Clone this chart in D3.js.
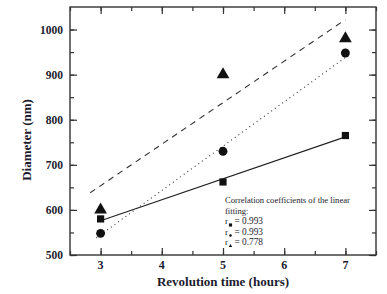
<!DOCTYPE html>
<html>
<head>
<meta charset="utf-8">
<script src="https://cdn.jsdelivr.net/npm/d3@7"></script>
<style>
  body { margin: 0; background: #fff; }
  svg text { font-family: "Liberation Serif", "Times New Roman", serif; fill: #1c1c2e; }
</style>
</head>
<body>
<div id="chart"></div>
<script>
// values
var hours = [3, 5, 7];
var squareVals = [580, 662, 765];
var circleVals = [548, 730, 948];
var triangleVals = [600, 900, 980];

// linear fit lines, end points
var solidFit = [[3, 576], [7, 762]];
var dottedFit = [[2.93, 538], [7, 938]];
var dashedFit = [[2.83, 638], [7, 1022]];

var xTicks = [3, 4, 5, 6, 7];
var yTicks = [500, 600, 700, 800, 900, 1000];
var noteLines = ["Correlation coefficients of the linear", "fitting:"];
var rValues = ["0.993", "0.993", "0.778"];

var width = 387, height = 294;
var margin = {left: 70, top: 7, right: 11, bottom: 39};
var pw = width - margin.left - margin.right;
var ph = height - margin.top - margin.bottom;

var svg = d3.select("#chart").append("svg")
    .attr("width", width)
    .attr("height", height);

var xScale = d3.scaleLinear().domain([2.5, 7.5]).range([0, pw]);
var yScale = d3.scaleLinear().domain([500, 1050]).range([ph, 0]);

var g = svg.append("g")
    .attr("transform", "translate(" + margin.left + "," + margin.top + ")");

// ticks pointing inward on all four sides
var minorX = d3.range(2.5, 7.51, 0.5);
var minorY = d3.range(500, 1050, 50);

function tickAxes(axisFn, scale, vals, len, tr) {
    g.append("g")
        .attr("transform", tr)
        .call(axisFn(scale).tickValues(vals).tickSize(len).tickFormat(""))
        .call(function (s) { s.select(".domain").remove(); })
        .selectAll("line").attr("stroke", "#333").attr("stroke-width", 1.2);
}
tickAxes(d3.axisTop, xScale, minorX, 4, "translate(0," + ph + ")");
tickAxes(d3.axisTop, xScale, xTicks, 7, "translate(0," + ph + ")");
tickAxes(d3.axisBottom, xScale, minorX, 4, "translate(0,0)");
tickAxes(d3.axisBottom, xScale, xTicks, 7, "translate(0,0)");
tickAxes(d3.axisRight, yScale, minorY, 4, "translate(0,0)");
tickAxes(d3.axisRight, yScale, yTicks, 7, "translate(0,0)");
tickAxes(d3.axisLeft, yScale, minorY, 4, "translate(" + pw + ",0)");
tickAxes(d3.axisLeft, yScale, yTicks, 7, "translate(" + pw + ",0)");

// tick labels
g.selectAll(".xlab").data(xTicks).enter().append("text")
    .attr("x", function (d) { return xScale(d); })
    .attr("y", ph + 14)
    .attr("text-anchor", "middle")
    .attr("font-size", 12)
    .attr("font-weight", "bold")
    .text(function (d) { return d; });

g.selectAll(".ylab").data(yTicks).enter().append("text")
    .attr("x", -7)
    .attr("y", function (d) { return yScale(d) + 4; })
    .attr("text-anchor", "end")
    .attr("font-size", 11.5)
    .attr("font-weight", "bold")
    .text(function (d) { return d; });

// frame
g.append("rect")
    .attr("width", pw).attr("height", ph)
    .attr("fill", "none").attr("stroke", "#333").attr("stroke-width", 1.4);

// fit lines
var line = d3.line()
    .x(function (d) { return xScale(d[0]); })
    .y(function (d) { return yScale(d[1]); });

g.append("path").attr("d", line(solidFit))
    .attr("fill", "none").attr("stroke", "#222").attr("stroke-width", 1.1);
g.append("path").attr("d", line(dottedFit))
    .attr("fill", "none").attr("stroke", "#333").attr("stroke-width", 1.1)
    .attr("stroke-dasharray", "1,3.5");
g.append("path").attr("d", line(dashedFit))
    .attr("fill", "none").attr("stroke", "#333").attr("stroke-width", 1.1)
    .attr("stroke-dasharray", "6,5");

// markers
function drawMarkers(vals, type, size) {
    g.selectAll(null).data(vals).enter().append("path")
        .attr("transform", function (d, i) {
            return "translate(" + xScale(hours[i]) + "," + yScale(d) + ")";
        })
        .attr("d", d3.symbol().type(type).size(size))
        .attr("fill", "#111");
}
drawMarkers(squareVals, d3.symbolSquare, 52);
drawMarkers(circleVals, d3.symbolCircle, 62);
drawMarkers(triangleVals, d3.symbolTriangle, 70);

// correlation note
var note = svg.append("g").attr("transform", "translate(225,0)");
note.selectAll(".n").data(noteLines).enter().append("text")
    .attr("x", 0)
    .attr("y", function (d, i) { return 203 + i * 10.5; })
    .attr("font-size", 8.6)
    .text(function (d) { return d; });

var rSymbols = [d3.symbolSquare, d3.symbolCircle, d3.symbolTriangle];
rValues.forEach(function (v, i) {
    var y = 224 + i * 10.5;
    note.append("text").attr("x", 0).attr("y", y).attr("font-size", 9).text("r");
    note.append("path")
        .attr("transform", "translate(5.5," + (y + 1) + ")")
        .attr("d", d3.symbol().type(rSymbols[i]).size(i === 0 ? 10 : 5))
        .attr("fill", "#111");
    note.append("text").attr("x", 9.5).attr("y", y).attr("font-size", 9.3)
        .text("= " + v);
});

// axis titles
svg.append("text")
    .attr("transform", "translate(31,140) rotate(-90)")
    .attr("text-anchor", "middle")
    .attr("font-size", 13)
    .attr("font-weight", "bold")
    .text("Diameter (nm)");

svg.append("text")
    .attr("x", margin.left + pw / 2)
    .attr("y", 286)
    .attr("text-anchor", "middle")
    .attr("font-size", 13)
    .attr("font-weight", "bold")
    .text("Revolution time (hours)");
</script>
</body>
</html>
